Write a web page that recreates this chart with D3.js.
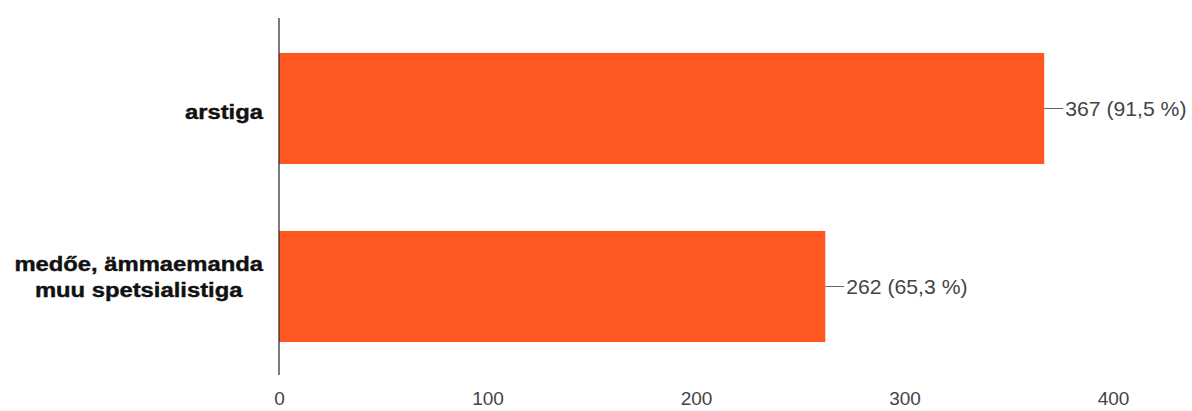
<!DOCTYPE html>
<html>
<head>
<meta charset="utf-8">
<script src="https://cdn.jsdelivr.net/npm/d3@7"></script>
<style>
  body { margin: 0; background: #fff; }
  svg { display: block; }
</style>
</head>
<body>
<svg id="chart" width="1192" height="411"></svg>
<script>
// data
const categories = ['arstiga', 'medőe, ämmaemanda\nmuu spetsialistiga'];
const counts = [367, 262];
const percents = [91.5, 65.3];
const xTicks = [0, 100, 200, 300, 400];

const svg = d3.select('#chart');

const x = d3.scaleLinear().domain([0, 400]).range([279, 1113]);
const y = d3.scaleBand()
    .domain(categories)
    .range([19.5, 375.5])
    .paddingInner(0.376)
    .paddingOuter(0.188);

// bars
svg.selectAll('.bar')
    .data(categories)
    .enter().append('rect')
    .attr('class', 'bar')
    .attr('x', x(0))
    .attr('y', d => y(d))
    .attr('width', (d, i) => x(counts[i]) - x(0))
    .attr('height', y.bandwidth())
    .attr('fill', '#ff5722');

// vertical baseline
svg.append('line')
    .attr('x1', x(0)).attr('x2', x(0))
    .attr('y1', 18).attr('y2', 375)
    .attr('stroke', '#222')
    .attr('stroke-width', 1.2);

// value labels with leader lines
const cy = d => y(d) + y.bandwidth() / 2;
categories.forEach((c, i) => {
    const xe = x(counts[i]);
    svg.append('line')
        .attr('x1', xe).attr('x2', xe + 19)
        .attr('y1', cy(c)).attr('y2', cy(c))
        .attr('stroke', '#666')
        .attr('stroke-width', 1);
    svg.append('text')
        .attr('transform', `translate(${xe + 21},${cy(c)}) scale(1.06,1)`)
        .attr('dy', '0.36em')
        .attr('font-family', 'Liberation Sans, Arial, sans-serif')
        .attr('font-size', 20)
        .attr('fill', '#444')
        .text(`${counts[i]} (${percents[i].toFixed(1).replace('.', ',')} %)`);
});

// category labels (bold, slightly wide)
const sx = 1.19, lineH = 26, labelRight = 263;
categories.forEach(c => {
    const lines = c.split('\n');
    const g = svg.append('g');
    const texts = lines.map((ln, j) => g.append('text')
        .attr('x', 0)
        .attr('y', 10.5 - (lines.length - 1 - j) * lineH)
        .attr('text-anchor', 'middle')
        .attr('font-family', 'Liberation Sans, Arial, sans-serif')
        .attr('font-weight', 'bold')
        .attr('font-size', 20)
        .attr('fill', '#111')
        .attr('stroke', '#111')
        .attr('stroke-width', 0.4)
        .text(ln));
    const maxW = d3.max(texts, t => t.node().getComputedTextLength());
    g.attr('transform', `translate(${labelRight - maxW * sx / 2},${cy(c)}) scale(${sx},1)`);
});

// x axis labels
const axis = d3.axisBottom(x).tickValues(xTicks).tickSize(0).tickPadding(0);
const ax = svg.append('g')
    .attr('transform', 'translate(0,391)')
    .call(axis);
ax.select('.domain').remove();
ax.selectAll('text')
    .attr('font-family', 'Liberation Sans, Arial, sans-serif')
    .attr('font-size', 19)
    .attr('fill', '#444');
</script>
</body>
</html>
